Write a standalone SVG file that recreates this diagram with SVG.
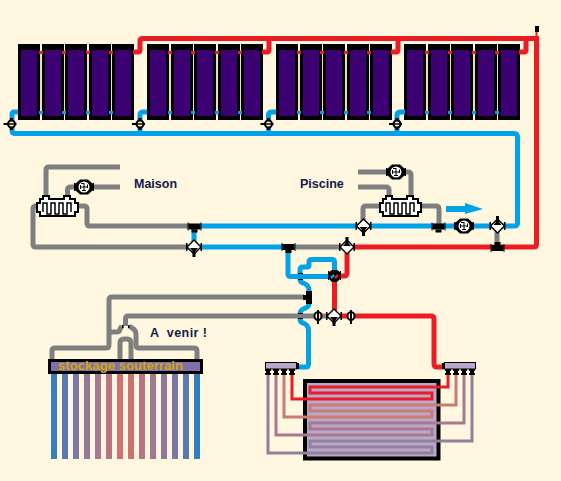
<svg xmlns="http://www.w3.org/2000/svg" xmlns:xlink="http://www.w3.org/1999/xlink" width="561" height="481" viewBox="0 0 561 481">
<style>
.p{fill:none;stroke-width:5;stroke-linejoin:round;stroke-linecap:butt}
.r{stroke:#ed1c24}.b{stroke:#00a2e8}.g{stroke:#7f7f7f}
.c{fill:none;stroke-width:3;stroke-linejoin:miter}
.t{font-family:"Liberation Sans",Arial,sans-serif;font-weight:bold;font-size:12.5px;fill:#10204a}
.k{fill:#000}
.rod{stroke:none}
</style>
<defs>
<g id="panel"><rect x="0" y="0" width="22" height="76" fill="#000"/><rect x="3" y="6" width="16" height="66" fill="#3b0072"/></g>
<g id="bank">
<rect x="22" y="6" width="2" height="66" fill="#e8e0a8"/><rect x="46" y="6" width="2" height="66" fill="#e8e0a8"/><rect x="69" y="6" width="2" height="66" fill="#e8e0a8"/><rect x="93" y="6" width="2" height="66" fill="#e8e0a8"/>
<use xlink:href="#panel" x="0"/><use xlink:href="#panel" x="24"/><use xlink:href="#panel" x="47"/><use xlink:href="#panel" x="71"/><use xlink:href="#panel" x="94"/>
<g fill="#ed1c24"><rect x="21" y="7" width="4" height="3"/><rect x="44" y="7" width="4" height="3"/><rect x="68" y="7" width="4" height="3"/><rect x="91" y="7" width="4" height="3"/></g>
<g fill="#00a2e8"><rect x="21" y="67" width="4" height="3"/><rect x="44" y="67" width="4" height="3"/><rect x="68" y="67" width="4" height="3"/><rect x="91" y="67" width="4" height="3"/></g>
</g>
<g id="vpanel"><rect x="-8" y="-1" width="13" height="2" class="k"/><rect x="-1.500" y="-6" width="3" height="12" class="k"/><circle r="3.500" fill="#fff7e0" stroke="#000" stroke-width="2"/><rect x="-3" y="-0.750" width="6" height="1.500" class="k"/></g>
<g id="vsmall"><rect x="-1" y="-6" width="2" height="14" class="k"/><ellipse rx="3.500" ry="4" fill="#fff7e0" stroke="#000" stroke-width="2"/><rect x="-1" y="-4" width="2" height="8" class="k"/></g>
<g id="v3"><polygon points="0,-8 8,0 0,8 -8,0" fill="#000"/><rect x="-8" y="-4" width="1.500" height="8" class="k"/><rect x="6.500" y="-4" width="1.500" height="8" class="k"/><polygon points="0,-6 6,0 0,6 -6,0" fill="#fff"/><polygon points="-4,1 4,1 1.500,4 1.500,10 -1.500,10 -1.500,4" class="k"/></g>
<g id="pump"><polygon points="-4,-7.500 4,-7.500 9,-3 9,3 4,7.500 -4,7.500 -9,3 -9,-3" fill="#000"/><rect x="-10" y="-4" width="1.500" height="8" class="k"/><rect x="8.500" y="-4" width="1.500" height="8" class="k"/><circle r="5.500" fill="#fff"/><path d="M0,0L0,-4M0,0L4,0M0,0L0,4M0,0L-4,0M0,-3.500L-3,-3.500M3.500,-2.500L3.500,1M2,3.500L-2,3.500M-3.500,-2L-3.500,2" stroke="#000" fill="none" stroke-width="1"/></g>
<g id="tee"><rect x="-6" y="-3" width="12" height="6" class="k"/><rect x="-3" y="3" width="6" height="3" class="k"/><rect x="-7" y="-4" width="1" height="8" class="k"/><rect x="6" y="-4" width="1" height="8" class="k"/></g>
<g id="hx"><path d="M7,4V1H13V4H28V1H34V4H39V8H42V17H39V21H4V17H1V8H4V4Z" fill="#fff" stroke="#000" stroke-width="2"/><path d="M7,17V8H11V19H15V8H19V19H23V8H27V19H31V8H35V17" fill="none" stroke="#000" stroke-width="1.500"/></g>
<g id="port"><rect x="-3" y="0" width="6" height="2" class="k"/><rect x="-2" y="2" width="4" height="2" class="k"/><rect x="-3" y="4" width="6" height="2" class="k"/></g>
</defs>
<rect width="561" height="481" fill="#fff7e0"/>

<g id="panels">
<use id="bank1" xlink:href="#bank" x="18" y="44"/>
<use id="bank2" xlink:href="#bank" x="147" y="44"/>
<use id="bank3" xlink:href="#bank" x="276" y="44"/>
<use id="bank4" xlink:href="#bank" x="404" y="44"/>
</g>

<g id="rods">
<rect class="rod" x="51" y="373" width="6" height="86" fill="#3a80c0"/>
<rect class="rod" x="62" y="373" width="6" height="86" fill="#5c78b0"/>
<rect class="rod" x="73" y="373" width="6" height="86" fill="#7e78a8"/>
<rect class="rod" x="84" y="373" width="6" height="86" fill="#937898"/>
<rect class="rod" x="95" y="373" width="6" height="86" fill="#a87890"/>
<rect class="rod" x="106" y="373" width="6" height="86" fill="#bc7480"/>
<rect class="rod" x="117" y="373" width="6" height="86" fill="#d07070"/>
<rect class="rod" x="128" y="373" width="6" height="86" fill="#cc7070"/>
<rect class="rod" x="139" y="373" width="6" height="86" fill="#b87484"/>
<rect class="rod" x="150" y="373" width="6" height="86" fill="#a47890"/>
<rect class="rod" x="161" y="373" width="6" height="86" fill="#8e789c"/>
<rect class="rod" x="172" y="373" width="6" height="86" fill="#7a78a8"/>
<rect class="rod" x="183" y="373" width="6" height="86" fill="#5c78b0"/>
<rect class="rod" x="194" y="373" width="6" height="86" fill="#3080c0"/>
</g>

<g id="tank"><rect x="305" y="381" width="133.500" height="77.500" fill="#b9a8cc" stroke="#000" stroke-width="4"/></g>

<g id="connectors">
<path class="p r" d="M133,52H138Q140,52 140,50V41Q140,38.500 143,38.500H534"/>
<path class="p r" d="M262,52H267Q269,52 269,50V38"/>
<path class="p r" d="M391,52H396Q398,52 398,50V38"/>
<path class="p r" d="M519,52H524Q526,52 526,50V38"/>
<path class="p r" d="M536.500,36V244.500Q536.500,247 534,247H353"/>
<path d="M536.500,32V37" stroke="#ed1c24" stroke-width="2" fill="none"/>
<path class="p b" d="M18,112H14Q12,112 12,115V130Q12,133.500 15,133.500H514Q517.500,133.500 517.500,137V223Q517.500,226 514,226H200"/>
<path class="p b" d="M147,112H143Q140,112 140,115V133"/>
<path class="p b" d="M276,112H272Q268.500,112 268.500,115V133"/>
<path class="p b" d="M405,112H401Q397,112 397,115V133"/>
<path class="p b" d="M194,226V247M200,247H285"/>
<path class="p g" d="M295,247H342"/>
<path class="p b" d="M288,250V274Q288,276.500 291,276.500H328"/>
<path class="p b" d="M334.500,272V262Q334.500,259.500 332,259.500H312Q309,259.500 309,262V265Q309,267 307,267H303Q300,267 300,270V279Q300,282 303,283Q309,285 309,290V292"/>
<path class="p b" d="M309,304Q309,307 303,309Q300,311 300,314V319Q300,322 303,323Q308.500,325 308.500,330V364Q308.500,367 306,367H298"/>
<path class="p r" d="M334.500,282V311"/>
<path class="p r" d="M340,276H344Q347,276 347,273V253"/>
<path class="p r" d="M340,316H431Q434,316 434,319V364Q434,367 437,367H444"/>
<path class="p g" d="M120,167H49Q46,167 46,170V196"/>
<path class="p g" d="M120,187H71Q67.500,187 67.500,190V196"/>
<path class="p g" d="M79,206H84Q87,206 87,209V223Q87,226 90,226H190"/>
<path class="p g" d="M36,206H36Q33,206 33,209V244Q33,247 36,247H190"/>
<path class="p g" d="M358,172H408Q411,172 411,175V197"/>
<path class="p g" d="M358,187H386Q389,187 389,190V197"/>
<path class="p g" d="M422,206H436Q439,206 439,209V224"/>
<path class="p g" d="M379,206H366Q363,206 363,209V222"/>
<path class="p g" d="M497,226V245"/>
<path class="p g" d="M304,297H112Q109,297 109,300V345Q109,348 106,348H55Q52,348 52,351V359"/>
<path class="p g" d="M330,316H128Q125.500,316 125.500,319V326"/>
<path class="p g" d="M110,332H116Q120,332 120,329L122,326M129,326L132,328Q136,330 136,334V345Q136,348 139,348H194Q197,348 197,351V359"/>
<path class="p g" d="M120,359V343Q120,339 124,339H127Q131,339 131,343V359"/>
<path class="c" stroke="#93809a" d="M268,375V453H432V447H310V441H472V375"/>
<path class="c" stroke="#a9788e" d="M276,375V435H432V429H310V423H464V375"/>
<path class="c" stroke="#cc7a74" d="M284,375V417H432V411H310V405H456V375"/>
<path class="c" stroke="#ed1c24" d="M292,375V399H432V393H310V387H448V375"/>
<polygon id="flow-arrow" points="446,206 465,206 465,203 483,209 465,214 465,212 446,212" fill="#00a2e8"/>
</g>

<g id="store"><rect x="49.500" y="360.500" width="152" height="12" fill="#7f70aa" stroke="#000" stroke-width="3"/><text x="58" y="369.500" font-family="Liberation Sans, Arial, sans-serif" font-size="12.500" font-weight="bold" fill="#d4a80c" textLength="125" lengthAdjust="spacingAndGlyphs">stockage souterrain</text></g>

<g id="crossing"><rect x="122" y="325" width="1.500" height="3" class="k"/><rect x="128" y="325" width="1.500" height="3" class="k"/></g>

<g id="manifold-left"><rect x="265.500" y="362.500" width="31" height="6.500" fill="#b9a8cc" stroke="#000"/><rect x="297" y="363" width="2" height="6" class="k"/><use xlink:href="#port" x="268" y="369"/><use xlink:href="#port" x="276" y="369"/><use xlink:href="#port" x="284" y="369"/><use xlink:href="#port" x="292" y="369"/></g>
<g id="manifold-right"><rect x="444.500" y="362.500" width="31" height="6.500" fill="#b9a8cc" stroke="#000"/><rect x="442" y="363" width="2" height="6" class="k"/><use xlink:href="#port" x="448" y="369"/><use xlink:href="#port" x="456" y="369"/><use xlink:href="#port" x="464" y="369"/><use xlink:href="#port" x="472" y="369"/></g>

<use id="hx-maison" xlink:href="#hx" x="36" y="195"/>
<use id="hx-piscine" xlink:href="#hx" x="379" y="195"/>

<use id="pv1" xlink:href="#vpanel" x="11.500" y="124"/>
<use id="pv2" xlink:href="#vpanel" x="140" y="124"/>
<use id="pv3" xlink:href="#vpanel" x="268.500" y="124"/>
<use id="pv4" xlink:href="#vpanel" x="397" y="124"/>
<use id="pump1" xlink:href="#pump" x="84" y="187"/>
<use id="pump2" xlink:href="#pump" x="396" y="172"/>
<use id="pump3" xlink:href="#pump" x="464" y="226"/>
<use id="t1" xlink:href="#tee" x="194.500" y="226.500"/>
<use id="t2" xlink:href="#tee" x="438.500" y="226.500"/>
<use id="t3" xlink:href="#tee" transform="translate(497.500,247) scale(1,-1) translate(0,-1) scale(1,1)"/>
<use id="t4" xlink:href="#tee" x="288.500" y="247"/>
<use id="v1" xlink:href="#v3" x="194" y="247"/>
<use id="v2" xlink:href="#v3" x="363.500" y="226"/>
<use id="v3a" xlink:href="#v3" transform="translate(497.500,226) rotate(180)"/>
<use id="v4" xlink:href="#v3" transform="translate(347,247) rotate(180)"/>
<use id="v5" xlink:href="#v3" x="334" y="316"/>
<use id="vs1" xlink:href="#vsmall" x="318" y="316"/>
<use id="vs2" xlink:href="#vsmall" x="351" y="316"/>
<g id="tee-store"><rect x="306" y="291" width="6" height="13" class="k"/><rect x="303" y="295" width="3" height="5" class="k"/></g>
<g id="ticks"><rect x="298" y="273" width="5" height="1" class="k"/><rect x="298" y="279" width="5" height="1" class="k"/><rect x="298" y="313" width="5" height="1" class="k"/><rect x="298" y="318" width="5" height="1" class="k"/></g>
<g id="mix"><polygon points="329,272 332,270 337,270 340,272 340,279 337,282 332,282 329,279" fill="#000"/><path d="M331,278L334,275" stroke="#00a2e8" stroke-width="2.500"/><path d="M335,278L338,275" stroke="#ed1c24" stroke-width="2.500"/><rect x="328" y="271" width="1" height="9" class="k"/><rect x="340" y="271" width="1" height="9" class="k"/></g>
<rect id="tip" x="535" y="26" width="4" height="6" class="k"/>

<text class="t" x="134" y="188">Maison</text>
<text class="t" x="300" y="188">Piscine</text>
<text class="t" x="150" y="337" xml:space="preserve" textLength="57">A  venir !</text>
</svg>
